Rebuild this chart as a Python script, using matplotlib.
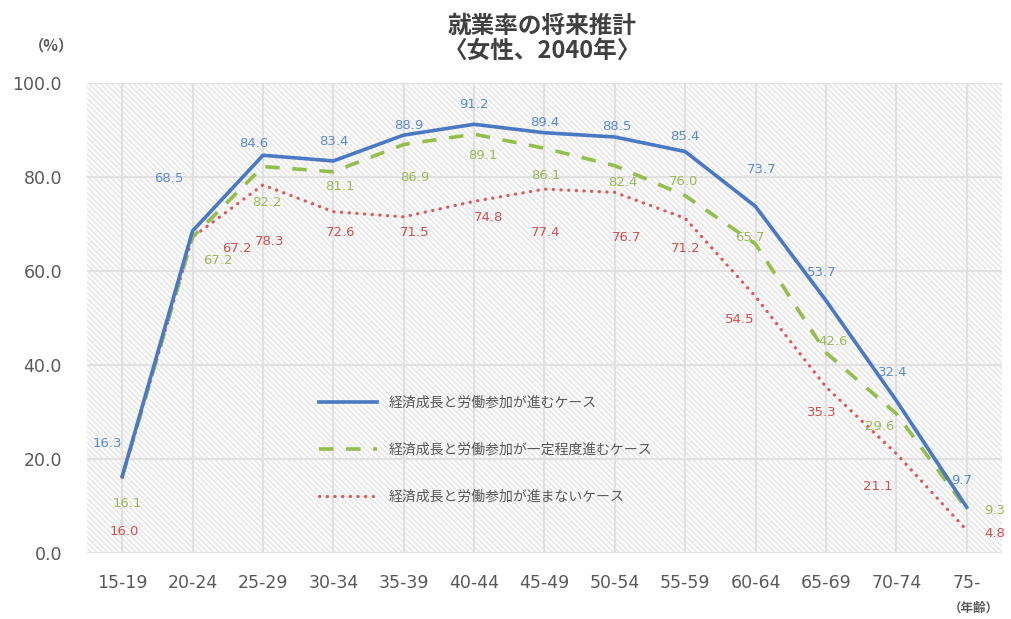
import matplotlib
matplotlib.use("Agg")
import matplotlib.pyplot as plt
from matplotlib.patches import Rectangle

plt.rcParams['font.family'] = ['Noto Sans CJK JP', 'DejaVu Sans']
plt.rcParams['hatch.linewidth'] = 1.0

ages = ['15-19', '20-24', '25-29', '30-34', '35-39', '40-44', '45-49',
        '50-54', '55-59', '60-64', '65-69', '70-74', '75-']
growth = [16.3, 68.5, 84.6, 83.4, 88.9, 91.2, 89.4, 88.5, 85.4, 73.7, 53.7, 32.4, 9.7]
partial = [16.1, 67.2, 82.2, 81.1, 86.9, 89.1, 86.1, 82.4, 76.0, 65.7, 42.6, 29.6, 9.3]
no_growth = [16.0, 67.2, 78.3, 72.6, 71.5, 74.8, 77.4, 76.7, 71.2, 54.5, 35.3, 21.1, 4.8]
names = ['経済成長と労働参加が進むケース',
         '経済成長と労働参加が一定程度進むケース',
         '経済成長と労働参加が進まないケース']

# label offsets in pixels, placed the way the spreadsheet put them
off_blue = [(-15, 33), (-24, 52), (-9, 12), (0, 19), (5, 10), (0, 20), (0, 10),
            (2, 10), (0, 15), (6, 37), (-4, 28), (-4, 28), (-5, 27)]
off_green = [(5, -26), (25, -23), (4, -36), (7, -15), (11, -33), (9, -21), (1, -27),
             (8, -17), (-2, 14), (-6, 7), (7, 11), (-17, -13), (28, -1)]
off_red = [(2, -54), (44, -11), (7, -57), (7, -21), (11, -16), (14, -16), (1, -43),
           (12, -45), (0, -30), (-16, -23), (-4, -26), (-19, -33), (28, -3)]

fig = plt.figure(figsize=(10.12, 6.19), dpi=100)
ax = fig.add_axes([0.086, 0.107, 0.904, 0.759])

ax.add_patch(Rectangle((0, 0), 1, 1, transform=ax.transAxes, facecolor='#fbfbfb',
                       edgecolor='#e6e6e6', hatch='\\\\\\\\\\\\', lw=0, zorder=0))

x = list(range(len(ages)))
ax.plot(x, growth, color='#4a78c2', lw=2.6, solid_joinstyle='round', label=names[0], zorder=4)
ax.plot(x, partial, color='#94bd4c', lw=2.6, ls=(0, (4, 3.5)), label=names[1], zorder=3)
ax.plot(x, no_growth, color='#d85a5a', lw=2.3, ls=(0, (0.1, 2.3)), dash_capstyle='round',
        label=names[2], zorder=2)

series = [(growth, off_blue, '#5b8bd0'), (partial, off_green, '#9bbb59'),
          (no_growth, off_red, '#d0504f')]
for vals, offs, col in series:
    for i, v in enumerate(vals):
        ax.annotate(f'{v:.1f}', (i, v), xytext=offs[i], textcoords='offset pixels',
                    ha='center', va='center', fontsize=9.5, color=col,
                    family=['DejaVu Sans'], zorder=5)

ax.set_xlim(-0.5, 12.5)
ax.set_ylim(0, 100)
ax.set_yticks(range(0, 101, 20))
ax.set_yticklabels([f'{t:.1f}' for t in range(0, 101, 20)])
ax.set_xticks(x)
ax.set_xticklabels(ages)
ax.tick_params(length=0, labelsize=12.5, labelcolor='#595959')
ax.tick_params(axis='x', pad=15)
ax.tick_params(axis='y', pad=18)
for lab in ax.get_xticklabels() + ax.get_yticklabels():
    lab.set_family(['DejaVu Sans'])

ax.set_axisbelow(True)
ax.grid(color='#e0e0e0', lw=1.5, zorder=1)
for s in ax.spines.values():
    s.set_visible(False)

leg = ax.legend(loc='upper left', bbox_to_anchor=(0.24, 0.36), frameon=False,
                fontsize=10, handlelength=4.2, labelspacing=2.35, handletextpad=0.8)
for t in leg.get_texts():
    t.set_color('#595959')

fig.text(0.536, 0.978, '就業率の将来推計\n〈女性、2040年〉', ha='center', va='top',
         fontsize=17, fontweight='bold', color='#404040', linespacing=1.05)
fig.text(0.051, 0.927, '（%）', ha='center', va='center', fontsize=11,
         fontweight='bold', color='#595959')
fig.text(0.962, 0.018, '（年齢）', ha='center', va='center', fontsize=9,
         fontweight='bold', color='#595959')

fig.savefig('out.png', dpi=100)
